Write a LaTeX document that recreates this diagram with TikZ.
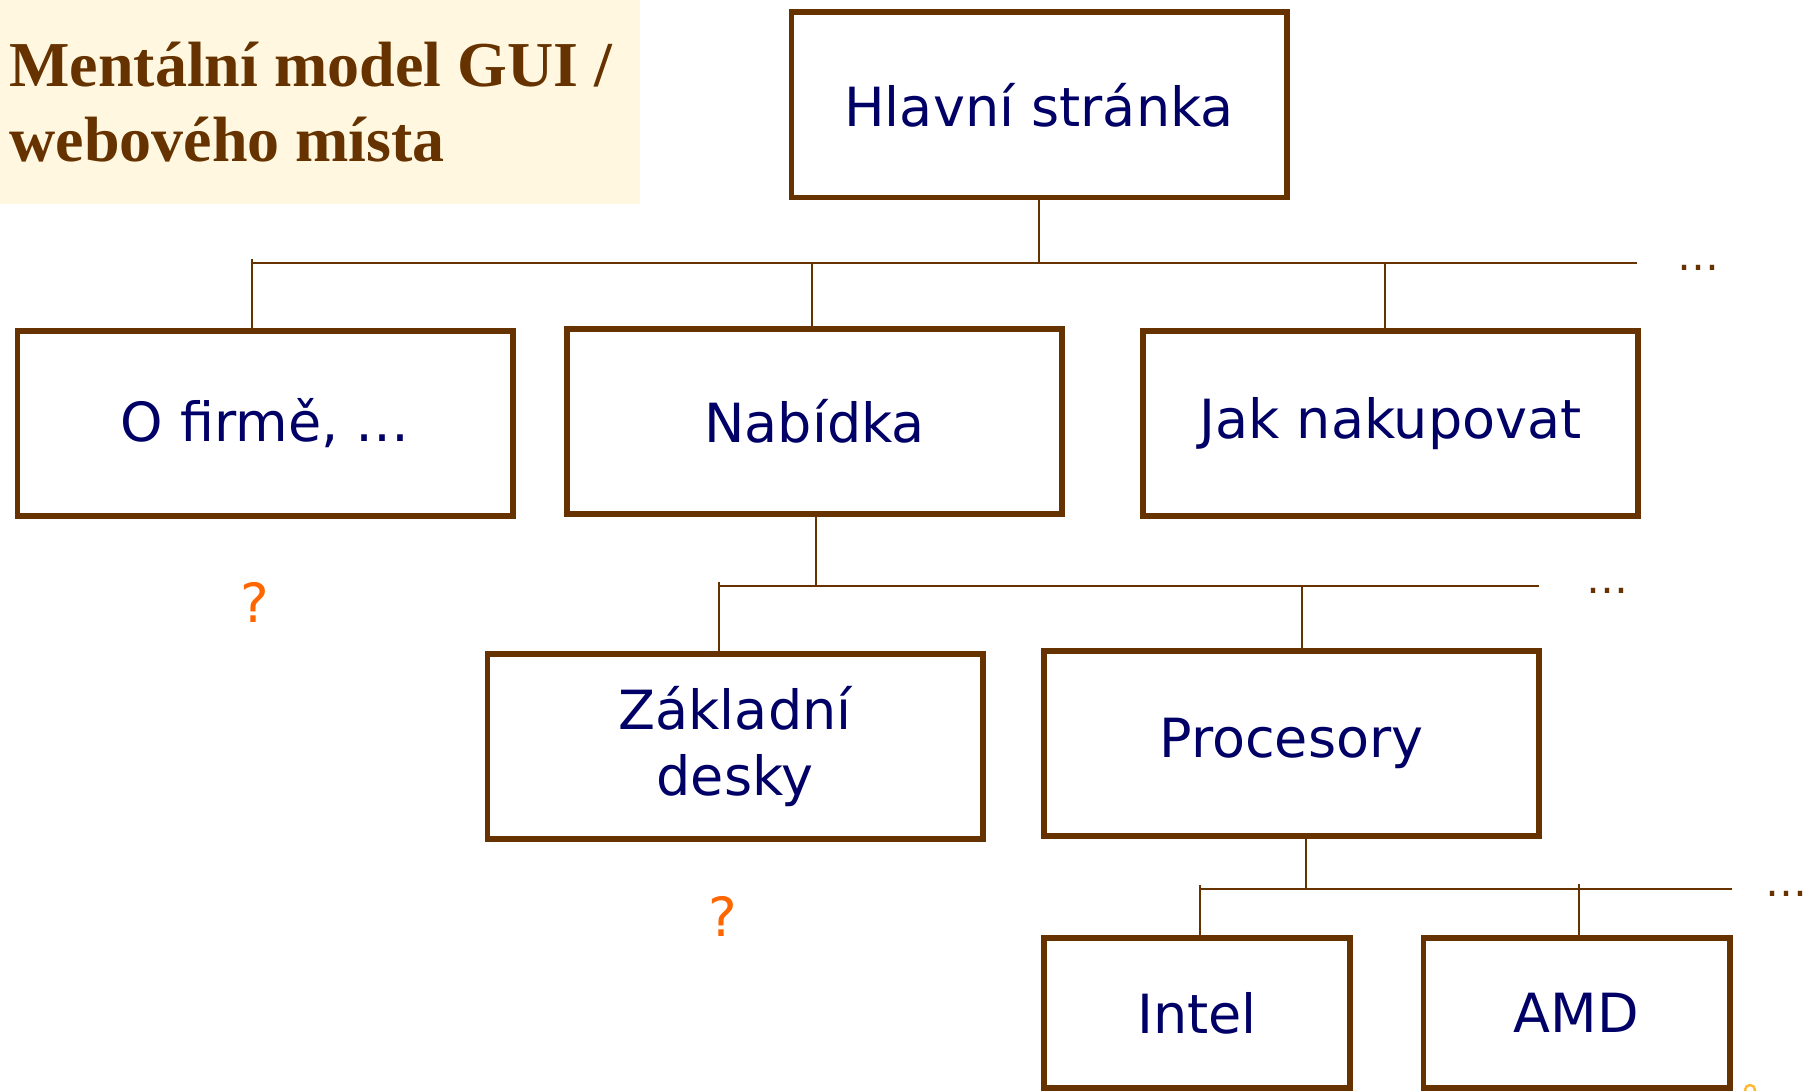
\documentclass[tikz,border=0pt]{standalone}
\usepackage{fontspec}
\setmainfont{DejaVu Sans}
\newfontfamily\titlefont{Liberation Serif}
\definecolor{brn}{HTML}{663300}
\definecolor{navy}{HTML}{000066}
\definecolor{qorange}{HTML}{FF6600}
\definecolor{qyellow}{HTML}{FFB833}
\definecolor{cream}{HTML}{FFF7E0}
\begin{document}
\begin{tikzpicture}[x=0.5pt,y=-0.5pt,
  pagebox/.style={draw=brn, line width=2.8pt, fill=white, minimum width=247.7pt, minimum height=92.7pt, inner sep=0pt, text=navy, font=\fontsize{27}{33}\selectfont, align=center},
  smallbox/.style={pagebox, minimum width=153.2pt, minimum height=75.2pt},
  conn/.style={draw=brn, line width=1pt},
  more/.style={text=brn, font=\fontsize{21}{25}\selectfont, inner sep=0pt, anchor=base west},
  qmark/.style={text=qorange, font=\fontsize{27}{33}\selectfont, inner sep=0pt},
  ttl/.style={text=brn, font=\titlefont\bfseries\fontsize{32}{37.5}\selectfont, inner sep=0pt, anchor=base west}]

\useasboundingbox (0,0) rectangle (1804,1091);
\fill[white] (0,0) rectangle (1804,1091);
\fill[cream] (0,0) rectangle (640,204);

\node[ttl] (t1) at (9,87) {Mentální model GUI /};
\node[ttl] (t2) at (9,162) {webového místa};

\node[pagebox] (hl) at (1039,105) {Hlavní stránka};
\node[pagebox] (of) at (265,423.5) {O firmě, …};
\node[pagebox] (nb) at (814.5,421.5) {Nabídka};
\node[pagebox] (jk) at (1390.5,423.5) {Jak nakupovat};
\node[pagebox] (zd) at (735,746.5) {Základní\\desky};
\node[pagebox] (pr) at (1291.5,743.5) {Procesory};
\node[smallbox] (in) at (1197,1013) {Intel};
\node[smallbox] (amd) at (1576.5,1013) {AMD};

% level 1
\coordinate (b1l) at (252,263);
\coordinate (b1r) at (1637,263);
\draw[conn] (b1l) -- (b1r);
\draw[conn] (hl.south) -- (hl.south |- b1l);
\draw[conn] (b1l) ++(0,-4) -- (b1l |- of.north);
\coordinate (d12) at (812,263);
\draw[conn] (d12) -- (d12 |- nb.north);
\coordinate (d13) at (1385,263);
\draw[conn] (d13) -- (d13 |- jk.north);
\node[more] (m1) at (1677,270.5) {…};

% level 2
\coordinate (b2l) at (719,586);
\coordinate (b2r) at (1539,586);
\draw[conn] (b2l) -- (b2r);
\coordinate (u2) at (816,586);
\draw[conn] (u2 |- nb.south) -- (u2);
\draw[conn] (b2l) ++(0,-4) -- (b2l |- zd.north);
\coordinate (d22) at (1302,586);
\draw[conn] (d22) -- (d22 |- pr.north);
\node[more] (m2) at (1586,593.5) {…};

% level 3
\coordinate (b3l) at (1200,889);
\coordinate (b3r) at (1732,889);
\draw[conn] (b3l) -- (b3r);
\coordinate (u3) at (1306,889);
\draw[conn] (u3 |- pr.south) -- (u3);
\draw[conn] (b3l) ++(0,-4) -- (b3l |- in.north);
\coordinate (d32) at (1579,889);
\draw[conn] (d32) ++(0,-5) -- (d32 |- amd.north);
\node[more] (m3) at (1765,896.5) {…};

\node[qmark] (q1) at (255,602) {?};
\node[qmark] (q2) at (723,916) {?};

\draw[draw=qyellow, line width=1.2pt] (1750,1090) circle (5);
\end{tikzpicture}
\end{document}
